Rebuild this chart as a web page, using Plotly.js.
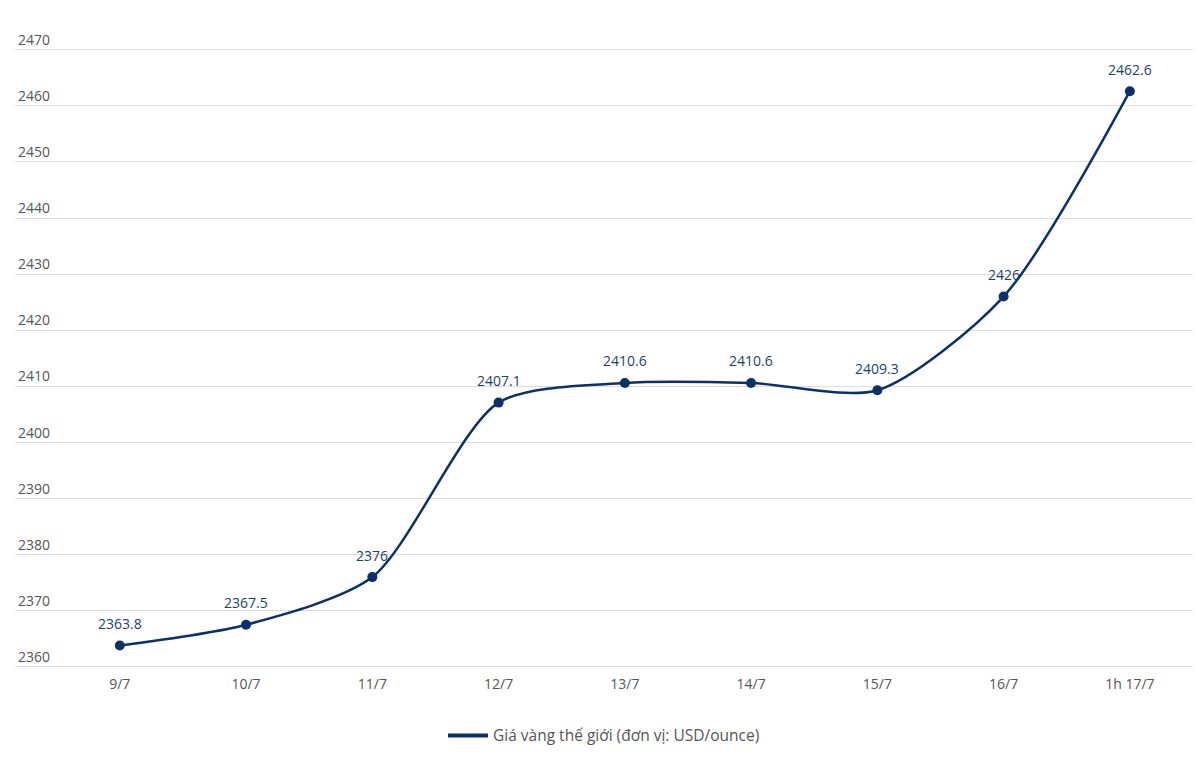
<!DOCTYPE html>
<html>
<head>
<meta charset="utf-8">
<script src="https://cdn.plot.ly/plotly-3.0.1.min.js"></script>
<style>
  html, body { margin: 0; padding: 0; background: #ffffff; }
  #chart { width: 1200px; height: 767px; }
</style>
</head>
<body>
<div id="chart"></div>
<script>
const days = ['9/7', '10/7', '11/7', '12/7', '13/7', '14/7', '15/7', '16/7', '1h 17/7'];
const prices = [2363.8, 2367.5, 2376, 2407.1, 2410.6, 2410.6, 2409.3, 2426, 2462.6];
const yTicks = [2360, 2370, 2380, 2390, 2400, 2410, 2420, 2430, 2440, 2450, 2460, 2470];
const seriesName = 'Giá vàng thế giới (đơn vị: USD/ounce)';

const navy = '#0b3168';

const trace = {
  x: days,
  y: prices,
  type: 'scatter',
  mode: 'lines+markers',
  line: { color: navy, width: 2.5, shape: 'spline', smoothing: 0.75 },
  marker: { size: 10, color: navy },
  showlegend: false,
  hoverinfo: 'x+y'
};

// legend entry only (thick line swatch)
const legendTrace = {
  x: [null],
  y: [null],
  type: 'scatter',
  mode: 'lines',
  name: seriesName,
  line: { color: navy, width: 4 },
  showlegend: true
};

// value labels above each point
const valueLabels = days.map((d, i) => ({
  x: d,
  y: prices[i],
  text: String(prices[i]),
  showarrow: false,
  yshift: 22,
  font: { family: 'Open Sans, sans-serif', size: 14, color: '#1d3f70' }
}));

const layout = {
  width: 1200,
  height: 767,
  paper_bgcolor: '#ffffff',
  plot_bgcolor: '#ffffff',
  margin: { t: 16, b: 99, l: 15, r: 7 },
  font: { family: 'Open Sans, sans-serif', color: '#555555' },
  xaxis: {
    type: 'category',
    range: [-0.83, 8.5],
    showgrid: false,
    zeroline: false,
    showline: false,
    ticks: '',
    ticklabelstandoff: 6,
    tickfont: { size: 14, color: '#555555' },
    fixedrange: true
  },
  yaxis: {
    range: [2359.8, 2476],
    tickvals: yTicks,
    ticklabelposition: 'inside top',
    showgrid: true,
    gridcolor: '#dcdcdc',
    gridwidth: 1,
    zeroline: false,
    showline: false,
    ticks: '',
    tickfont: { size: 14, color: '#555555' },
    fixedrange: true
  },
  annotations: valueLabels,
  showlegend: true,
  legend: {
    orientation: 'h',
    x: 0.5,
    xanchor: 'center',
    y: -0.078,
    yanchor: 'top',
    font: { family: 'Open Sans, sans-serif', size: 15.5, color: '#555555' },
    itemwidth: 40
  }
};

Plotly.newPlot('chart', [trace, legendTrace], layout, { displayModeBar: false });
</script>
</body>
</html>
